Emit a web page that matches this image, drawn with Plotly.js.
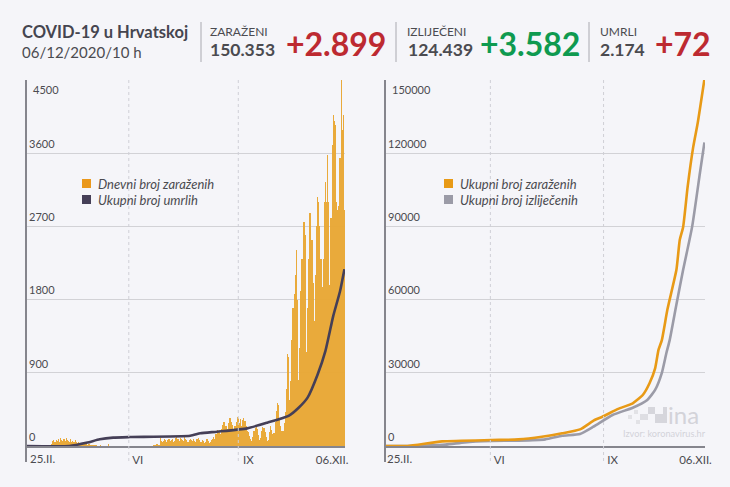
<!DOCTYPE html>
<html><head><meta charset="utf-8">
<script src="https://cdn.plot.ly/plotly-3.0.1.min.js"></script>
<style>html,body{margin:0;padding:0;background:#f5f5f9}</style></head>
<body><div id="chart" style="width:730px;height:487px"></div>
<script>
const dailyCases = [
 0,1,1,2,2,2,1,0,1,0,1,2,3,0,2,1,3,5,9,5,4,12,15,20,
 60,70,50,75,60,80,55,95,70,60,85,65,95,75,60,50,80,55,65,45,70,50,40,55,
 30,35,25,40,20,25,30,15,20,25,12,18,10,15,8,
 8,5,6,4,8,5,3,4,6,5,3,25,6,4,
 1,2,1,1,0,1,1,0,0,1,0,1,0,0,1,0,0,0,1,0,0,1,2,0,1,1,0,1,2,1,0,1,2,1,2,3,4,
 12,10,15,20,25,18,
 100,60,50,65,80,70,55,75,90,60,70,85,55,65,95,
 110,90,60,100,85,70,60,105,80,75,50,70,
 85,70,60,90,65,55,80,100,75,50,45,70,60,40,55,80,65,35,45,70,
 90,110,80,150,200,190,
 170,150,210,260,300,290,240,210,280,340,350,300,260,210,240,300,360,340,280,
 330,250,320,350,310,240,190,170,120,80,
 60,
 110,180,225,240,210,130,70,100,190,230,220,170,110,60,70,170,245,200,150,160,
 290,430,530,510,350,240,190,
 185,280,420,700,1130,1100,560,800,1300,1700,
 1870,2100,2410,1800,810,1200,1900,2300,2755,2750,
 2600,1160,1700,2300,2865,2860,2530,2000,1540,2100,
 2700,3060,3000,2700,2300,1950,2300,3000,3250,3000,
 3580,3000,1980,2800,3700,4070,4000,3950,3000,2900,
 2950,3540,4540,3890,4070,2899];
const deathDays  = [0,39,55,66,78,93,147,156,171,198,216,235,244,252,261,268,275,281,285];
const deathTotal = [0,0,43,82,103,110,125,156,176,217,287,370,470,595,880,1170,1600,1900,2174];
const caseDays   = [0,20,51,95,119,140,158,174,187,194,208,221,230,236,241,244,247,252,260,263,266,270,275,279,285];
const caseTotal  = [0,0,1900,2450,2700,3800,5200,6800,10660,12000,15200,17500,20900,25700,31850,39400,43400,56000,72200,84500,89800,106200,122600,132400,150353];
const recovDays  = [0,20,54,71,95,119,143,158,174,186,203,221,234,241,247,251,254,260,266,274,281,285];
const recovTotal = [0,0,550,1500,2050,2200,2700,4200,4900,7900,12700,15700,18900,23000,30000,38000,43400,58000,72200,89800,112000,124439];
const leftTicks  = [0,900,1800,2700,3600];
const rightTicks = [0,30000,60000,90000,120000];
const xLabels = ['25.II.','VI','IX','06.XII.'];
const leftLabelDays  = [15,100,199,274];
const rightLabelDays = [13,102,203,277];
const leftMonthDays  = [92,190];
const rightMonthDays = [94,195];
const dayIndex = dailyCases.map((_, i) => i);

const W = 730, H = 487;
const fx = p => p / W, fy = p => 1 - p / H;
const INK = '#4b4b50', GRID = '#d2d2d6', AXIS = '#85858d';
const ORANGE = '#e89a16', BAR = '#e8a735', DARK = '#453f57', GREY = '#9b9ba7';
const FONT = 'Lato, "Noto Sans", sans-serif';

function txt(x, y, text, size, color, extra) {
  return Object.assign({xref:'paper', yref:'paper', x:fx(x-2), y:fy(y), text, showarrow:false,
    xanchor:'left', yanchor:'middle', font:{family:FONT, size, color}}, extra || {});
}
const B = s => '<b>' + s + '</b>';
const RED = '#bd2a31', GREEN = '#0f9a50';
const axisLabel = (xref, d, s) => ({xref, yref:'paper', x:d, y:fy(458), text:s, showarrow:false,
    xanchor:'center', yanchor:'middle', font:{family:FONT, size:11.5, color:INK}});

const annotations = [
  txt(22,32,B('COVID-19 u Hrvatskoj'),16.5,'#45454f'),
  txt(22,52,'06/12/2020/10 h',15,INK),
  txt(210,32,'ZARAŽENI',12,INK),
  txt(210,50,B('150.353'),17.5,INK),
  txt(286,43,B('+2.899'),32,RED),
  txt(407,32,'IZLIJEČENI',12,INK),
  txt(408,50,B('124.439'),17.5,INK),
  txt(480,43,B('+3.582'),32,GREEN),
  txt(600,32,'UMRLI',12,INK),
  txt(600,50,B('2.174'),17.5,INK),
  txt(655,43,B('+72'),32,RED),
  txt(33,90,'4500',11,INK),
  txt(392,90,'150000',11,INK),
  txt(98,184,'<i>Dnevni broj zaraženih</i>',13,INK),
  txt(98,200,'<i>Ukupni broj umrlih</i>',13,INK),
  txt(460,184,'<i>Ukupni broj zaraženih</i>',13,INK),
  txt(460,200,'<i>Ukupni broj izliječenih</i>',13,INK),
  txt(668,414,'ina',24,'#d3d3d9'),
  txt(623,433,'Izvor: koronavirus.hr',9.2,'#d3d3d9'),
  axisLabel('x', leftLabelDays[0], xLabels[0]),
  axisLabel('x2', rightLabelDays[0], xLabels[0])
];

const rect = (x0,y0,x1,y1,color) => ({type:'rect',xref:'paper',yref:'paper',x0:fx(x0),x1:fx(x1),y0:fy(y0),y1:fy(y1),fillcolor:color,line:{width:0},layer:'below'});
const vline = (xref,x,color,width,dash) => ({type:'line',xref,yref:'paper',x0:x,x1:x,y0:fy(80),y1:fy(462),line:{color,width,dash},layer:'above'});
const pline = (x,y0,y1) => ({type:'line',xref:'paper',yref:'paper',x0:fx(x),x1:fx(x),y0:fy(y0),y1:fy(y1),line:{color:'#a9a9b0',width:1}});

const shapes = [
  pline(201,22,62), pline(396,22,62), pline(589,22,62),
  vline('paper',fx(26),AXIS,2,'solid'), vline('paper',fx(385),AXIS,2,'solid'),
  ...leftMonthDays.map(d => vline('x',d,'#cfcfd6',1,'dot')),
  ...rightMonthDays.map(d => vline('x2',d,'#cfcfd6',1,'dot')),
  rect(82,179,91,188,'#ea981c'), rect(82,195,91,204,DARK),
  rect(444,179,453,188,ORANGE), rect(444,195,453,204,GREY),
  rect(648,407,655,414,'#d6d6dc'), rect(655,414,663,423,'#d6d6dc'), rect(663,407,667,423,'#d6d6dc'),
  rect(640,414,648,420,'#dedee3'), rect(628,415,632,419,'#e2e2e6'), rect(634,410,638,414,'#e2e2e6'), rect(636,420,640,424,'#e2e2e6')
];

const data = [
  {type:'bar', x:dayIndex, y:dailyCases, xaxis:'x', yaxis:'y', cliponaxis:false,
   marker:{color:BAR, opacity:0.97, line:{width:0}}, name:'Dnevni broj zaraženih'},
  {type:'scatter', mode:'lines', x:deathDays, y:deathTotal, xaxis:'x', yaxis:'y', cliponaxis:false,
   line:{color:DARK, width:2.6, shape:'spline', smoothing:0.5}, name:'Ukupni broj umrlih'},
  {type:'scatter', mode:'lines', x:recovDays, y:recovTotal, xaxis:'x2', yaxis:'y2', cliponaxis:false,
   line:{color:GREY, width:2.6, shape:'spline', smoothing:0.5}, name:'Ukupni broj izliječenih'},
  {type:'scatter', mode:'lines', x:caseDays, y:caseTotal, xaxis:'x2', yaxis:'y2', cliponaxis:false,
   line:{color:ORANGE, width:2.6, shape:'spline', smoothing:0.5}, name:'Ukupni broj zaraženih'}
];

const xBase = {range:[0,285.5], showgrid:false, zeroline:false, showline:true, linecolor:AXIS, linewidth:2,
  tickmode:'array', ticks:'', ticklabelstandoff:2, tickfont:{family:FONT,size:11.5,color:INK}};
const yBase = {showgrid:true, gridcolor:GRID, gridwidth:1, zeroline:false, showline:false, ticks:'',
  tickmode:'array', ticklabelposition:'inside', ticklabelshift:-9, tickfont:{family:FONT,size:11,color:INK}};

const layout = {
  width:W, height:H, margin:{l:0,r:0,t:0,b:0}, paper_bgcolor:'#f5f5f9', plot_bgcolor:'#f5f5f9',
  showlegend:false, bargap:0, annotations, shapes,
  xaxis: Object.assign({}, xBase, {domain:[fx(26),fx(345)], tickvals:leftLabelDays.slice(1), ticktext:xLabels.slice(1), anchor:'y'}),
  xaxis2:Object.assign({}, xBase, {domain:[fx(385),fx(705)], tickvals:rightLabelDays.slice(1), ticktext:xLabels.slice(1), anchor:'y2'}),
  yaxis: Object.assign({}, yBase, {domain:[fy(446),fy(80)], range:[0,4500], tickvals:leftTicks.concat(4500), ticktext:leftTicks.map(String).concat(''), anchor:'x'}),
  yaxis2:Object.assign({}, yBase, {domain:[fy(446),fy(80)], range:[0,150000], tickvals:rightTicks.concat(150000), ticktext:rightTicks.map(String).concat(''), anchor:'x2'})
};
Plotly.newPlot('chart', data, layout, {displayModeBar:false, staticPlot:true});
</script></body></html>
